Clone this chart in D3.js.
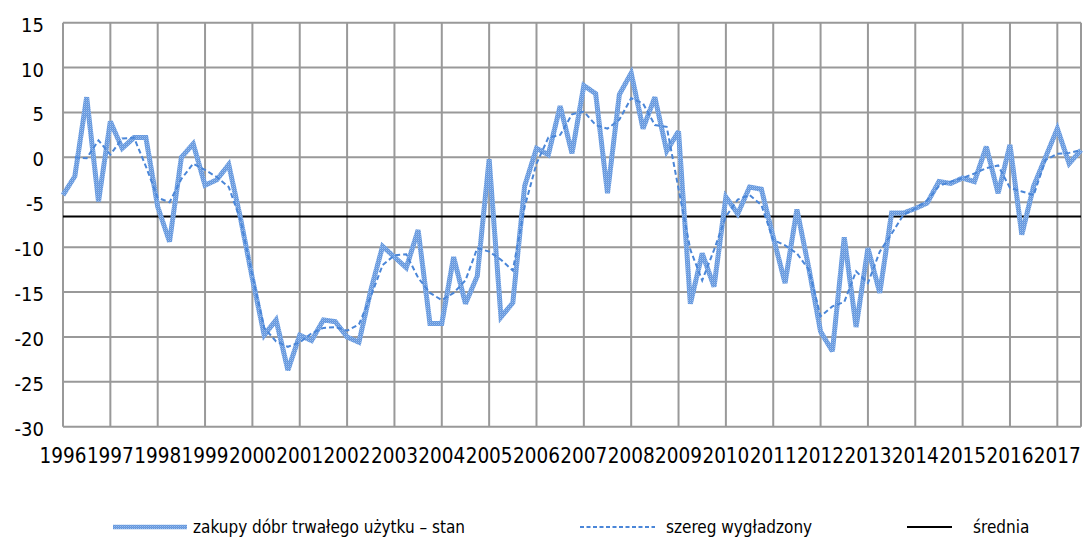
<!DOCTYPE html>
<html>
<head>
<meta charset="utf-8">
<script src="https://cdn.jsdelivr.net/npm/d3@7"></script>
<style>
  html, body { margin: 0; padding: 0; background: #fff; }
  svg { display: block; }
  text { font-family: 'DejaVu Sans Condensed', 'DejaVu Sans', sans-serif; font-stretch: condensed; fill: #000; }
</style>
</head>
<body>
<svg id="chart" width="1083" height="538"></svg>
<script>
// ---- data ----
const years = [1996,1997,1998,1999,2000,2001,2002,2003,2004,2005,2006,2007,2008,2009,2010,2011,2012,2013,2014,2015,2016,2017];
const quarters = [];
years.forEach(y => [1,2,3,4].forEach(q => { if (!(y === 2017 && q === 4)) quarters.push(y + "Q" + q); }));

const stan = [
  -4.2, -2.1, 6.7, -4.9,   4.0, 1.0, 2.2, 2.2,
  -5.5, -9.4, 0.0, 1.5,    -3.1, -2.5, -0.8, -6.8,
  -13.5, -19.8, -18.1, -23.7,  -19.8, -20.4, -18.1, -18.3,
  -20.0, -20.6, -14.8, -9.9,   -11.1, -12.3, -8.1, -18.5,
  -18.5, -11.1, -16.3, -13.2,  -0.2, -17.8, -16.2, -3.2,
  1.0, 0.3, 5.7, 0.45,     8.0, 7.1, -4.0, 7.0,
  9.4, 3.2, 6.7, 0.7,      2.9, -16.3, -10.7, -14.4,
  -4.4, -6.3, -3.3, -3.55, -8.9, -14.0, -5.8, -12.3,
  -19.4, -21.6, -8.9, -18.9,  -10.1, -15.1, -6.2, -6.2,
  -5.7, -5.1, -2.7, -2.9,  -2.3, -2.7, 1.2, -4.0,
  1.4, -8.6, -3.2, 0.0,    3.2, -0.7, 0.8
];
const wygladzony = [
  null, 0.0, -0.1, 1.9,    0.3, 2.1, 2.2, -1.0,
  -4.5, -5.0, -2.4, -0.7,  -1.4, -2.2, -3.3, -7.0,
  -13.2, -19.0, -20.5, -21.1,  -20.6, -19.6, -19.0, -18.9,
  -19.3, -18.6, -15.5, -12.0,  -10.9, -10.8, -13.4, -15.1,
  -15.9, -15.1, -13.7, -10.1,  -10.5, -11.4, -12.6, -5.5,
  -0.7, 2.2, 2.5, 4.8,     5.1, 3.6, 3.2, 4.2,
  6.6, 6.0, 3.6, 3.4,      -3.5, -10.3, -13.7, -10.3,
  -6.6, -4.7, -4.2, -5.3,  -9.2, -9.8, -10.7, -12.5,
  -17.7, -16.6, -16.1, -12.7,  -14.0, -10.5, -8.5, -6.4,
  -5.7, -4.8, -3.2, -2.7,  -2.3, -1.8, -1.2, -0.9,
  -3.4, -3.8, -4.2, -0.3,  0.4, 0.5, 0.8
];
const srednia = -6.6;
const yTicks = [15,10,5,0,-5,-10,-15,-20,-25,-30];
const legendLabels = ["zakupy dóbr trwałego użytku – stan", "szereg wygładzony", "średnia"];

// ---- layout ----
const svg = d3.select("#chart");
const L = 63, R = 1081, T = 22.7, B = 426.7;

const x = d3.scalePoint().domain(quarters).range([L, R]);
const y = d3.scaleLinear().domain([-30, 15]).range([B, T]);

const defs = svg.append("defs");
const pat = defs.append("pattern").attr("id", "hatch").attr("patternUnits", "userSpaceOnUse")
  .attr("width", 2).attr("height", 2);
pat.append("rect").attr("width", 2).attr("height", 2).attr("fill", "#6196dd");
pat.append("rect").attr("width", 1).attr("height", 1).attr("fill", "#9fbfec");
pat.append("rect").attr("x", 1).attr("y", 1).attr("width", 1).attr("height", 1).attr("fill", "#7aa6e4");

const gridColor = "#999999";

// horizontal grid
svg.append("g").selectAll("line").data(yTicks).join("line")
  .attr("x1", L).attr("x2", R)
  .attr("y1", d => y(d)).attr("y2", d => y(d))
  .attr("stroke", gridColor).attr("stroke-width", 2);

// vertical grid at each year's Q1, plus right border
const yearTicks = years.map(yr => yr + "Q1");
svg.append("g").selectAll("line").data(yearTicks).join("line")
  .attr("x1", d => x(d)).attr("x2", d => x(d))
  .attr("y1", T).attr("y2", B)
  .attr("stroke", gridColor).attr("stroke-width", 2);
svg.append("line").attr("x1", R).attr("x2", R).attr("y1", T).attr("y2", B)
  .attr("stroke", gridColor).attr("stroke-width", 2);

// y labels
svg.append("g").selectAll("text").data(yTicks).join("text")
  .attr("x", 44).attr("y", d => y(d) + 2).attr("dy", "0.35em")
  .attr("text-anchor", "end").attr("font-size", 20)
  .text(d => d);

// x labels
svg.append("g").selectAll("text").data(years).join("text")
  .attr("x", d => x(d + "Q1")).attr("y", 463)
  .attr("text-anchor", "middle").attr("font-size", 20.5)
  .text(d => d);

// mean line
svg.append("line").attr("x1", L).attr("x2", R)
  .attr("y1", y(srednia)).attr("y2", y(srednia))
  .attr("stroke", "#000").attr("stroke-width", 2);

// series
const line = d3.line().defined(d => d[1] !== null).x(d => x(d[0])).y(d => y(d[1]));
svg.append("path").datum(quarters.map((q, i) => [q, stan[i]]))
  .attr("d", line).attr("fill", "none")
  .attr("stroke", "url(#hatch)").attr("stroke-width", 5).attr("stroke-linejoin", "miter").attr("stroke-miterlimit", 3);
svg.append("path").datum(quarters.map((q, i) => [q, wygladzony[i]]))
  .attr("d", line).attr("fill", "none")
  .attr("stroke", "#4a86d8").attr("stroke-width", 2).attr("stroke-dasharray", "5,3");

// legend
const ly = 527;
const lg = svg.append("g");
lg.append("line").attr("x1", 113).attr("x2", 187).attr("y1", ly).attr("y2", ly)
  .attr("stroke", "url(#hatch)").attr("stroke-width", 4.5);
lg.append("text").attr("x", 193).attr("y", ly).attr("dy", "0.35em").attr("font-size", 17).text(legendLabels[0]);
lg.append("line").attr("x1", 580).attr("x2", 655).attr("y1", ly).attr("y2", ly)
  .attr("stroke", "#4a86d8").attr("stroke-width", 2).attr("stroke-dasharray", "4,2.5");
lg.append("text").attr("x", 666).attr("y", ly).attr("dy", "0.35em").attr("font-size", 17).text(legendLabels[1]);
lg.append("line").attr("x1", 907).attr("x2", 952).attr("y1", ly).attr("y2", ly)
  .attr("stroke", "#000").attr("stroke-width", 2);
lg.append("text").attr("x", 973).attr("y", ly).attr("dy", "0.35em").attr("font-size", 17).text(legendLabels[2]);
</script>
</body>
</html>
